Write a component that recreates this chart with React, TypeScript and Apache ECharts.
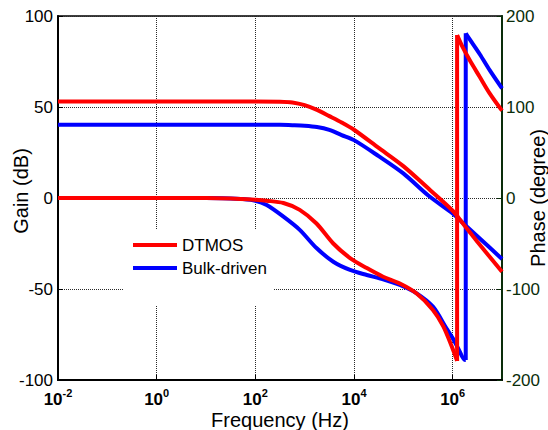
import React, { useEffect, useRef } from 'react';
import * as echarts from 'echarts';

// Frequency points given as decade exponents (f = 10^exp Hz)
const redGainExp = [-2, 0, 2, 2.5, 2.75, 3, 3.25, 3.5, 3.75, 4, 4.5, 5, 5.54, 6, 6.18, 6.5, 7];
const redGainDb = [53, 53, 53, 52.9, 52.5, 51, 48.4, 45, 41.5, 37.5, 27.5, 17.5, 4.4, -7, -13, -24, -40.5];

const blueGainExp = [-2, 0, 2, 2.5, 2.75, 3, 3.25, 3.5, 3.75, 4, 4.5, 5, 5.5, 6, 6.18, 6.5, 7];
const blueGainDb = [40.3, 40.3, 40.3, 40.2, 40, 39.7, 39, 37.4, 34.6, 31.8, 23, 13.5, 1.5, -8.5, -13, -21, -33.5];

// Phase before the -180 -> +180 wrap
const redPhasePreExp = [-2, 0, 1, 1.5, 2, 2.23, 2.57, 2.9, 3.24, 3.58, 3.92, 4.26, 4.59, 4.93, 5.27, 5.6, 5.81, 5.98, 6.09];
const redPhasePreDeg = [0, 0, 0, -0.5, -2, -3, -5.5, -13, -28, -50, -66, -77, -86.5, -94, -105, -123, -141, -163, -179];
// Phase after the wrap
const redPhasePostExp = [6.09, 6.2, 6.35, 6.55, 6.75, 7];
const redPhasePostDeg = [179, 166, 151, 133, 115, 96];

const bluePhasePreExp = [-2, 0, 1, 1.5, 1.7, 2, 2.23, 2.57, 2.9, 3.24, 3.58, 3.92, 4.26, 4.59, 4.93, 5.27, 5.6, 5.87, 6.0, 6.11, 6.25, 6.265];
const bluePhasePreDeg = [0, 0, 0, -0.5, -1, -3, -7.7, -20.5, -35, -55, -70, -79, -84.6, -89.4, -95.6, -104.8, -119.4, -143, -154, -165, -178, -178];
const bluePhasePostExp = [6.265, 6.35, 6.55, 6.75, 7];
const bluePhasePostDeg = [181, 174, 158, 140.5, 120.5];

const legendNames = ['DTMOS', 'Bulk-driven'];
const seriesColors = ['#ff0000', '#0000ff'];

const toPoints = (exps: number[], vals: number[]) => exps.map((e, i) => [Math.pow(10, e), vals[i]]);

const FONT = 'Arial, "Liberation Sans", sans-serif';
const GREEN = '#0a2d0a';
const GRID = '#2a2a2a';

export default function App() {
  const ref = useRef<HTMLDivElement>(null);
  useEffect(() => {
    document.body.style.margin = '0';
    const chart = echarts.init(ref.current!, null, { renderer: 'svg' });
    const lineSeries = (name: string, color: string, data: number[][], yAxisIndex: number, smooth: number | boolean) => ({
      name,
      type: 'line',
      data,
      yAxisIndex,
      showSymbol: false,
      symbol: 'none',
      smooth,
      lineStyle: { color, width: 4 },
      itemStyle: { color },
    });
    const phaseSeries = (name: string, color: string, preE: number[], preV: number[], postE: number[], postV: number[]) => {
      const pre = toPoints(preE, preV);
      const post = toPoints(postE, postV);
      return [
        lineSeries(name, color, pre, 1, 0.3),
        lineSeries(name, color, [pre[pre.length - 1], post[0]], 1, false),
        lineSeries(name, color, post, 1, 0.3),
      ];
    };
    chart.setOption({
      animation: false,
      backgroundColor: '#fff',
      textStyle: { fontFamily: FONT },
      grid: {
        left: 58, right: 46, top: 16, bottom: 50,
        containLabel: false,
        outerBoundsMode: 'none',
        show: true, borderColor: '#000', borderWidth: 1.5, backgroundColor: 'transparent',
      },
      legend: {
        data: legendNames,
        orient: 'vertical',
        left: 123,
        top: 230,
        backgroundColor: '#fff',
        padding: [6, 7, 28, 10],
        itemWidth: 44,
        itemHeight: 4,
        itemGap: 5,
        icon: 'rect',
        textStyle: { fontSize: 17, lineHeight: 18, color: '#000', fontFamily: FONT },
      },
      xAxis: {
        type: 'log',
        logBase: 10,
        min: 0.01,
        max: 1e7,
        interval: 2,
        name: 'Frequency (Hz)',
        nameLocation: 'middle',
        nameGap: 30,
        nameMoveOverlap: false,
        nameTextStyle: { fontSize: 20, lineHeight: 20, color: '#000', fontFamily: FONT },
        axisLine: { onZero: false, lineStyle: { color: '#000', width: 2 } },
        axisTick: { inside: true, length: 5, lineStyle: { color: '#000' } },
        splitLine: { show: true, lineStyle: { color: GRID, type: 'dotted', width: 1 } },
        axisLabel: {
          showMaxLabel: false,
          margin: 7,
          formatter: (v: number) => `{b|10}{s|${Math.round(Math.log10(v))}}`,
          rich: {
            b: { fontSize: 17, fontWeight: 'bold', color: '#000', fontFamily: FONT, verticalAlign: 'bottom', lineHeight: 21 },
            s: { fontSize: 11, fontWeight: 'bold', color: '#000', fontFamily: FONT, verticalAlign: 'top', lineHeight: 21 },
          },
        },
      },
      yAxis: [
        {
          type: 'value',
          min: -100,
          max: 100,
          interval: 50,
          name: 'Gain (dB)',
          nameLocation: 'middle',
          nameRotate: 90,
          nameGap: 27,
          nameMoveOverlap: false,
          nameTextStyle: { fontSize: 20, lineHeight: 20, color: '#000', fontFamily: FONT, padding: [0, 0, 0, 14] },
          axisLine: { show: true, onZero: false, lineStyle: { color: '#000', width: 2 } },
          axisTick: { show: true, inside: true, length: 5, lineStyle: { color: '#000' } },
          splitLine: { show: true, lineStyle: { color: GRID, type: 'dotted', width: 1 } },
          axisLabel: { fontSize: 17, color: '#000', margin: 5, fontFamily: FONT },
        },
        {
          type: 'value',
          min: -200,
          max: 200,
          interval: 100,
          position: 'right',
          name: 'Phase (degree)',
          nameLocation: 'middle',
          nameRotate: 90,
          nameGap: 26,
          nameMoveOverlap: false,
          nameTextStyle: { fontSize: 20, lineHeight: 20, color: '#000', fontFamily: FONT },
          axisLine: { show: true, onZero: false, lineStyle: { color: GREEN, width: 2 } },
          axisTick: { show: true, inside: true, length: 5, lineStyle: { color: GREEN } },
          splitLine: { show: false },
          axisLabel: { fontSize: 17, color: GREEN, margin: 4, fontFamily: FONT },
        },
      ],
      series: [
        lineSeries(legendNames[1], seriesColors[1], toPoints(blueGainExp, blueGainDb), 0, 0.3),
        ...phaseSeries(legendNames[1], seriesColors[1], bluePhasePreExp, bluePhasePreDeg, bluePhasePostExp, bluePhasePostDeg),
        lineSeries(legendNames[0], seriesColors[0], toPoints(redGainExp, redGainDb), 0, 0.3),
        ...phaseSeries(legendNames[0], seriesColors[0], redPhasePreExp, redPhasePreDeg, redPhasePostExp, redPhasePostDeg),
      ],
    });
    return () => chart.dispose();
  }, []);
  return <div ref={ref} style={{ width: 548, height: 430 }} />;
}
